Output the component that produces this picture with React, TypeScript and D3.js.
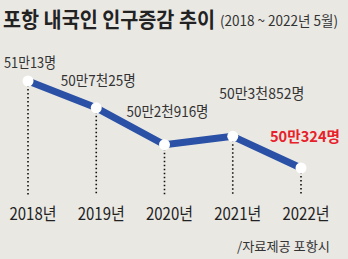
import React from 'react';
import * as d3 from 'd3';

const years = ['2018년', '2019년', '2020년', '2021년', '2022년'];
const population = [510013, 507025, 502916, 503852, 500324];
const valueLabels = ['51만13명', '50만7천25명', '50만2천916명', '50만3천852명', '50만324명'];

const width = 348;
const height = 259;
const font = '"Noto Sans CJK KR", "Noto Sans", sans-serif';

// label placement relative to each point (dx, dy) and fitted widths
const labelDx = [2, 2, 3, 29, 4];
const labelDy = [-13, -22, -28, -37, -26];
const labelLen = [52, 75, 82, 85, 70];

const App = () => {
  const x = d3.scalePoint<string>().domain(years).range([28, 301]);
  const y = d3.scaleLinear()
    .domain([d3.min(population) as number, d3.max(population) as number])
    .range([168, 81]);

  const line = d3.line<number>()
    .x((_, i) => x(years[i]) as number)
    .y(d => y(d));

  const last = population.length - 1;

  return (
    <svg width={width} height={height}
      style={{ position: 'absolute', left: 0, top: 0, background: '#e9e8e3' }}>
      <rect width={width} height={height} fill="#e9e8e3" />
      <text x={3} y={27} fontFamily={font} fontWeight="bold" fontSize={21}
        fill="#222" textLength={212} lengthAdjust="spacingAndGlyphs">
        포항 내국인 인구증감 추이
      </text>
      <text x={220} y={26} fontFamily={font} fontSize={14} fill="#333"
        textLength={118} lengthAdjust="spacingAndGlyphs">
        (2018 ~ 2022년 5월)
      </text>

      {population.map((d, i) => (
        <line key={'d' + i} x1={x(years[i])} x2={x(years[i])} y1={y(d) + 4} y2={195}
          stroke="#111" strokeWidth={1.6} strokeDasharray="1.5 2.5" />
      ))}

      <path d={line(population) || ''} fill="none" stroke="#2a51a6" strokeWidth={7}
        strokeLinejoin="round" />

      {population.map((d, i) => (
        <circle key={'c' + i} cx={x(years[i])} cy={y(d)} r={5.5} fill="#fff" />
      ))}

      {population.map((d, i) => (
        <text key={'l' + i} x={(x(years[i]) as number) + labelDx[i]} y={y(d) + labelDy[i]}
          textAnchor="middle" fontFamily={font} fontSize={15}
          fontWeight={i === last ? 'bold' : 'normal'}
          fill={i === last ? '#e8202a' : '#333'}
          textLength={labelLen[i]} lengthAdjust="spacingAndGlyphs">
          {valueLabels[i]}
        </text>
      ))}

      {years.map((yr, i) => (
        <text key={'x' + i} x={(x(yr) as number) + 5} y={220} textAnchor="middle"
          fontFamily={font} fontSize={17} fill="#222"
          textLength={47} lengthAdjust="spacingAndGlyphs">
          {yr}
        </text>
      ))}

      <text x={330} y={251} textAnchor="end" fontFamily={font} fontSize={13} fill="#333"
        textLength={93} lengthAdjust="spacingAndGlyphs">
        /자료제공 포항시
      </text>
    </svg>
  );
};

export default App;
